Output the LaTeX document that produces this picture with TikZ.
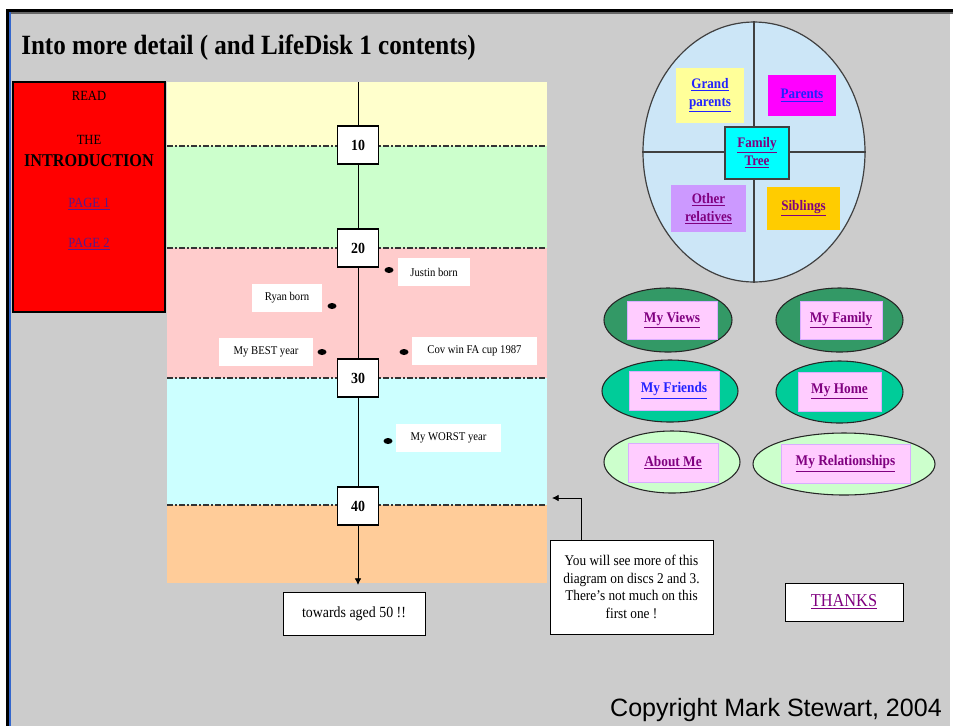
\documentclass[tikz,border=0pt]{standalone}
\usepackage{fontspec}
\setmainfont[FakeStretch=0.9]{Liberation Serif}
\newfontfamily\copyfont{Liberation Sans}
\usetikzlibrary{shapes.geometric, arrows.meta, positioning, calc}
\definecolor{pagegray}{HTML}{CCCCCC}
\definecolor{borderblue}{HTML}{3366CC}
\definecolor{introred}{HTML}{FF0000}
\definecolor{bandyellow}{HTML}{FFFFCC}
\definecolor{bandgreen}{HTML}{CCFFCC}
\definecolor{bandpink}{HTML}{FFCCCC}
\definecolor{bandcyan}{HTML}{CCFFFF}
\definecolor{bandorange}{HTML}{FFCC99}
\definecolor{treeblue}{HTML}{CCE6F7}
\definecolor{gpyellow}{HTML}{FFFF99}
\definecolor{parmagenta}{HTML}{FF00FF}
\definecolor{famcyan}{HTML}{00FFFF}
\definecolor{othviolet}{HTML}{CC99FF}
\definecolor{sibgold}{HTML}{FFCC00}
\definecolor{darkgreen}{HTML}{339966}
\definecolor{seagreen}{HTML}{00CC99}
\definecolor{palegreen}{HTML}{CCFFCC}
\definecolor{boxpink}{HTML}{FFCCFF}
\definecolor{linkpurple}{HTML}{800080}
\definecolor{linkblue}{HTML}{2222FF}
\definecolor{pagelink}{HTML}{551A8B}
\newcommand{\fsz}[2]{\fontsize{#1}{#2}\selectfont}
\newcommand{\lnk}[1]{\underline{#1}}

\begin{document}
\begin{tikzpicture}[
    x=0.75pt, y=-0.75pt,
    introtext/.style={inner sep=0pt, font=\fsz{10.5}{12}},
    numbox/.style={rectangle, draw, fill=white, line width=0.8pt, minimum width=30.75pt, minimum height=28.5pt, inner sep=0pt, font=\bfseries\fsz{11.6}{13}},
    event/.style={rectangle, fill=white, minimum height=21pt, inner sep=0pt, font=\fsz{8.9}{10}},
    blip/.style={ellipse, fill=black, minimum width=6.75pt, minimum height=4.5pt, inner sep=0pt},
    agebreak/.style={line width=0.9pt, draw=black!80, dash pattern=on 4.5pt off 1.5pt on 1.5pt off 1.5pt},
    textbox/.style={rectangle, draw, fill=white, line width=0.6pt, inner sep=0pt, align=center},
    treebox/.style={rectangle, inner sep=0pt, align=center, font=\bfseries\fsz{10.9}{13.5}},
    oval/.style={ellipse, draw=black!85, line width=0.8pt, inner sep=0pt, minimum height=46.5pt},
    linkbox/.style={rectangle, fill=boxpink, draw=boxpink!85!blue, minimum height=29pt, inner sep=0pt, font=\bfseries\fsz{11.1}{12}, text=linkpurple},
    arrow/.style={-{Latex[length=5pt, width=5pt]}, line width=0.6pt}
]
\useasboundingbox (0,0) rectangle (953,726);
\fill[white] (0,0) rectangle (953,726);
\fill[pagegray] (10,13) rectangle (950,726);
\fill[black!60] (10,12) rectangle (953,14);
\fill[black] (6,9) rectangle (953,12);
\fill[black] (6,9) rectangle (9,726);
\fill[borderblue] (9,12) rectangle (10.5,726);

\node[anchor=west, inner sep=0pt, font=\bfseries\fsz{20.9}{24}] (title) at (21,48) {Into more detail ( and LifeDisk 1 contents)};

\node[rectangle, draw, line width=0.8pt, fill=introred, minimum width=114pt, minimum height=172.5pt] (intro) at (89,197) {};
\node[introtext] (read) at (89,96) {READ};
\node[introtext] (the) at (89,140) {THE};
\node[introtext, font=\bfseries\fsz{13.5}{15}] (introduction) at (89,161) {INTRODUCTION};
\node[introtext, text=pagelink] (page1) at (89,204) {\lnk{PAGE 1}};
\node[introtext, text=pagelink] (page2) at (89,244) {\lnk{PAGE 2}};

\fill[bandyellow] (167,82) rectangle (547,146);
\fill[bandgreen] (167,146) rectangle (547,248);
\fill[bandpink] (167,248) rectangle (547,378);
\fill[bandcyan] (167,378) rectangle (547,505);
\fill[bandorange] (167,505) rectangle (547,583);
\draw[agebreak] (167,146) -- (547,146);
\draw[agebreak] (167,248) -- (547,248);
\draw[agebreak] (167,378) -- (547,378);
\draw[agebreak] (167,505) -- (547,505);

\coordinate (axtop) at (358,82);
\node[numbox] (y10) at (358,145) {10};
\node[numbox] (y20) at (358,248) {20};
\node[numbox] (y30) at (358,378) {30};
\node[numbox] (y40) at (358,506) {40};
\node[textbox, minimum width=106.5pt, minimum height=32.25pt, font=\fsz{11.6}{13}] (aged) at (354,613.5) {towards aged 50 !!};
\draw[line width=0.6pt] (axtop) -- (y10);
\draw[line width=0.6pt] (y10) -- (y20);
\draw[line width=0.6pt] (y20) -- (y30);
\draw[line width=0.6pt] (y30) -- (y40);
\draw[arrow, shorten >=5pt] (y40) -- (y40 |- aged.north);

\node[blip] (jdot) at (389,270) {};
\node[event, minimum width=54pt] (justin) at (434,272) {Justin born};
\node[blip] (rdot) at (332,306) {};
\node[event, minimum width=52.5pt] (ryan) at (287,298) {Ryan born};
\node[blip] (bdot) at (322,352) {};
\node[event, minimum width=70.5pt] (best) at (266,351.5) {My BEST year};
\node[blip] (cdot) at (404,352) {};
\node[event, minimum width=93.75pt] (cov) at (474.5,351) {Cov win FA cup 1987};
\node[blip] (wdot) at (388,441) {};
\node[event, minimum width=78.75pt] (worst) at (448.5,438) {My WORST year};

\node[textbox, minimum width=122.25pt, minimum height=70.5pt, font=\fsz{11.1}{13.1}] (note) at (631.5,587) {You will see more of this\\diagram on discs 2 and 3.\\There's not much on this\\first one !};
\coordinate (noteend) at (552,498);
\draw[arrow] ([xshift=24pt]note.north west) |- (noteend);

\node[textbox, minimum width=88.5pt, minimum height=28.5pt, font=\fsz{13.6}{15}, text=linkpurple] (thanks) at (844,602) {\lnk{THANKS}};

\node[ellipse, draw=black!75, line width=0.9pt, fill=treeblue, minimum width=166.5pt, minimum height=195pt, inner sep=0pt] (family) at (754,152) {};
\draw[black!75, line width=1pt] (family.north) -- (family.south);
\draw[black!75, line width=1pt] (family.west) -- (family.east);
\node[treebox, fill=gpyellow, minimum width=51pt, minimum height=41.25pt, text=linkblue] (grand) at (710,95.5) {\lnk{Grand}\\\lnk{parents}};
\node[treebox, fill=parmagenta, minimum width=51pt, minimum height=30.75pt, text=linkblue] (parents) at (802,95.5) {\lnk{Parents}};
\node[treebox, fill=famcyan, draw=black!75, line width=0.8pt, minimum width=48pt, minimum height=39pt, text=linkpurple] (tree) at (757,153) {\lnk{Family}\\\lnk{Tree}};
\node[treebox, fill=othviolet, minimum width=56.25pt, minimum height=35.25pt, text=linkpurple] (other) at (708.5,208.5) {\lnk{Other}\\\lnk{relatives}};
\node[treebox, fill=sibgold, minimum width=54.75pt, minimum height=32.25pt, text=linkpurple] (siblings) at (803.5,208.5) {\lnk{Siblings}};

\node[oval, fill=darkgreen, minimum width=96pt, minimum height=48pt] (viewsring) at (668,320) {};
\node[linkbox, minimum width=67.5pt, minimum height=28.5pt] (views) at (672,320) {\lnk{My Views}};
\node[oval, fill=darkgreen, minimum width=95.25pt, minimum height=48pt] (familyring) at (839.5,320) {};
\node[linkbox, minimum width=61.5pt, minimum height=28.5pt] (myfamily) at (841,320) {\lnk{My Family}};
\node[oval, fill=seagreen, minimum width=102pt] (friendsring) at (670,391) {};
\node[linkbox, minimum width=67.5pt, text=linkblue] (friends) at (674,390.5) {\lnk{My Friends}};
\node[oval, fill=seagreen, minimum width=95.25pt] (homering) at (839.5,392) {};
\node[linkbox, minimum width=62.25pt] (home) at (839.5,391.5) {\lnk{My Home}};
\node[oval, fill=palegreen, minimum width=102pt] (aboutring) at (672,462) {};
\node[linkbox, minimum width=67.5pt] (about) at (673,462.5) {\lnk{About Me}};
\node[oval, fill=palegreen, minimum width=136.5pt] (relring) at (844,464) {};
\node[linkbox, minimum width=96.75pt] (relations) at (845.5,463.5) {\lnk{My Relationships}};

\node[anchor=east, inner sep=0pt, font=\copyfont\fsz{18.8}{22}] (copyright) at (942,710) {Copyright Mark Stewart, 2004};
\end{tikzpicture}
\end{document}
